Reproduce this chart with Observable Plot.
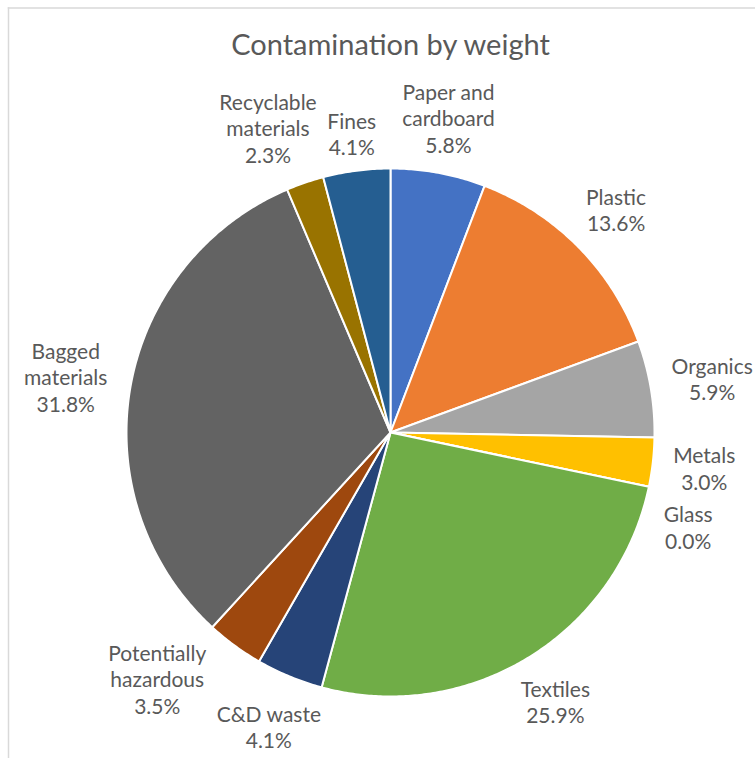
<!DOCTYPE html>
<html>
<head>
<meta charset="utf-8">
<script src="https://cdn.jsdelivr.net/npm/d3@7"></script>
<script src="https://cdn.jsdelivr.net/npm/@observablehq/plot@0.6"></script>
<style>
  html, body { margin: 0; padding: 0; background: #fff; overflow: hidden; }
</style>
</head>
<body>
<div id="chart"></div>
<script>
// ---- data ----
const title = "Contamination by weight";
const categories = ["Paper and cardboard", "Plastic", "Organics", "Metals", "Glass", "Textiles",
  "C&D waste", "Potentially hazardous", "Bagged materials", "Recyclable materials", "Fines"];
const values = [5.8, 13.6, 5.9, 3.0, 0.0, 25.9, 4.1, 3.5, 31.8, 2.3, 4.1];
const labelLines = [["Paper and", "cardboard"], ["Plastic"], ["Organics"], ["Metals"], ["Glass"], ["Textiles"],
  ["C&D waste"], ["Potentially", "hazardous"], ["Bagged", "materials"], ["Recyclable", "materials"], ["Fines"]];
const colors = ["#4472C4", "#ED7D31", "#A5A5A5", "#FFC000", "#5B9BD5", "#70AD47",
  "#264478", "#9E480E", "#636363", "#997300", "#255E91"];

// ---- layout ----
const W = 755, H = 758;
const CX = 390, CY = 432, R = 264;          // pie centre / radius in pixels
const FONT = "Lato, 'Open Sans', sans-serif";
const LABEL_SIZE = 21, LINE_H = 26.5, TITLE_SIZE = 29;
const TEXT_COLOR = "#595959";

// x/y domains so that 1 data unit = pie radius
const xDomain = [-CX / R, (W - CX) / R];
const yDomain = [-(H - CY) / R, CY / R];

const pie = d3.pie().sort(null).value(d => d)(values);

// slice polygons
const slicePts = [];
pie.forEach((p, i) => {
  const a0 = p.startAngle, a1 = p.endAngle;
  const n = Math.max(2, Math.ceil((a1 - a0) / (Math.PI / 360)));
  slicePts.push({cat: categories[i], x: 0, y: 0});
  for (let k = 0; k <= n; k++) {
    const a = a0 + (a1 - a0) * k / n;
    slicePts.push({cat: categories[i], x: Math.sin(a), y: Math.cos(a)});
  }
  slicePts.push({cat: categories[i], x: 0, y: 0});
});

// label placement (pixel space), Excel-like "best fit" outside
const ctx = document.createElement("canvas").getContext("2d");
ctx.font = `${LABEL_SIZE}px ${FONT}`;
const labels = pie.map((p, i) => {
  const lines = [...labelLines[i], values[i].toFixed(1) + "%"];
  const w = d3.max(lines, l => ctx.measureText(l).width);
  const h = lines.length * LINE_H;
  return {i, v: values[i], text: lines.join("\n"), w, h, a: (p.startAngle + p.endAngle) / 2};
});
const PAD = 5;
function place(L) {
  const ux = Math.sin(L.a), uy = -Math.cos(L.a);
  const gap = 18 - 10 * uy * uy;
  const s = (L.w / 2) * Math.abs(ux) + (L.h / 2) * Math.abs(uy);
  const d = R + gap + s;
  L.cx = CX + d * ux; L.cy = CY + d * uy;
}
function overlap(A, B) {
  return Math.abs(A.cx - B.cx) < (A.w + B.w) / 2 + 2 * PAD &&
         Math.abs(A.cy - B.cy) < (A.h + B.h) / 2 + PAD;
}
labels.forEach(place);
const step = Math.PI / 720;
for (let it = 0; it < 600; it++) {
  let moved = false;
  for (let k = 0; k < labels.length; k++) {
    const A = labels[k], B = labels[(k + 1) % labels.length];
    if (overlap(A, B)) {
      if (B.v <= A.v) { B.a += step; place(B); } else { A.a -= step; place(A); }
      moved = true;
    }
  }
  if (!moved) break;
}
labels.forEach(L => { L.x = (L.cx - CX) / R; L.y = -(L.cy - CY) / R; });

const plot = Plot.plot({
  width: W, height: H,
  margin: 0,
  x: {domain: xDomain, axis: null},
  y: {domain: yDomain, axis: null},
  color: {domain: categories, range: colors},
  style: {fontFamily: FONT, background: "#fff"},
  marks: [
    Plot.frame({anchor: "top", stroke: "#d9d9d9", strokeWidth: 1.5, insetTop: 7.5, insetLeft: 8}),
    Plot.frame({anchor: "left", stroke: "#d9d9d9", strokeWidth: 1.5, insetTop: 7.5, insetLeft: 8}),
    Plot.line(slicePts, {x: "x", y: "y", z: "cat", fill: "cat", stroke: "#fff", strokeWidth: 2, strokeLinejoin: "round"}),
    Plot.text(labels, {x: "x", y: "y", text: "text", fontSize: LABEL_SIZE, lineHeight: LINE_H / LABEL_SIZE,
      fill: TEXT_COLOR, textAnchor: "middle", lineAnchor: "middle"}),
    Plot.text([title], {x: [0], frameAnchor: "top", dy: 45, fontSize: TITLE_SIZE, fill: TEXT_COLOR,
      lineAnchor: "middle", text: d => d})
  ]
});
document.getElementById("chart").appendChild(plot);
</script>
</body>
</html>
